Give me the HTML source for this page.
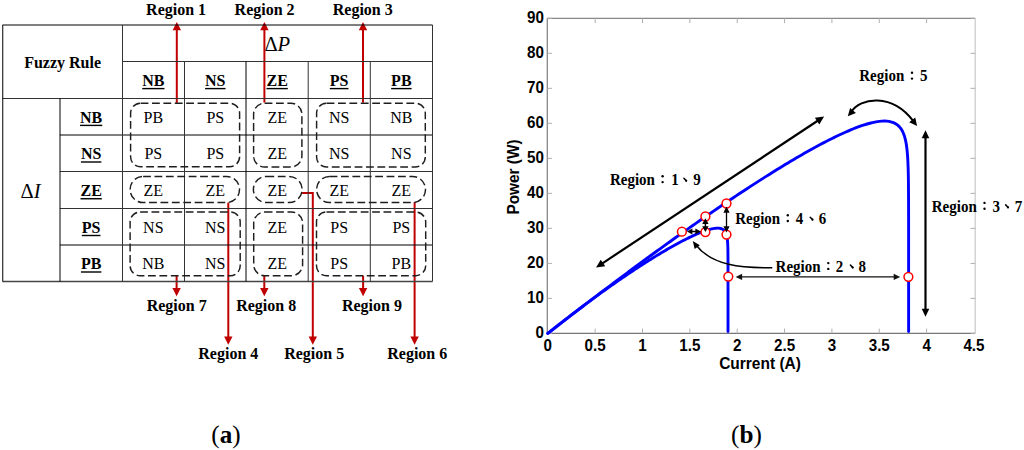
<!DOCTYPE html>
<html><head><meta charset="utf-8"><title>Fuzzy rule table and P-I curve</title>
<style>html,body{margin:0;padding:0;background:#fff;width:1024px;height:450px;overflow:hidden}svg{display:block}</style>
</head><body>
<svg width="1024" height="450" viewBox="0 0 1024 450"><line x1="176.8" y1="102.8" x2="176.8" y2="28" stroke="#c00000" stroke-width="2"/>
<path d="M176.8,22 L181,30.2 L172.6,30.2 Z" fill="#c00000"/>
<line x1="264.4" y1="102.5" x2="264.4" y2="28" stroke="#c00000" stroke-width="2"/>
<path d="M264.4,22 L268.6,30.2 L260.2,30.2 Z" fill="#c00000"/>
<line x1="363" y1="102.5" x2="363" y2="28" stroke="#c00000" stroke-width="2"/>
<path d="M363,22 L367.2,30.2 L358.8,30.2 Z" fill="#c00000"/>
<line x1="176.6" y1="275.7" x2="176.6" y2="290.3" stroke="#c00000" stroke-width="2"/>
<path d="M176.6,296.3 L172.4,288.1 L180.8,288.1 Z" fill="#c00000"/>
<line x1="264.3" y1="275.7" x2="264.3" y2="290.3" stroke="#c00000" stroke-width="2"/>
<path d="M264.3,296.3 L260.1,288.1 L268.5,288.1 Z" fill="#c00000"/>
<line x1="363.1" y1="275.7" x2="363.1" y2="290.3" stroke="#c00000" stroke-width="2"/>
<path d="M363.1,296.3 L358.9,288.1 L367.3,288.1 Z" fill="#c00000"/>
<line x1="228.3" y1="202.6" x2="228.3" y2="338.8" stroke="#c00000" stroke-width="2"/>
<path d="M228.3,344.8 L224.1,336.6 L232.5,336.6 Z" fill="#c00000"/>
<line x1="414.6" y1="202.2" x2="414.6" y2="338.8" stroke="#c00000" stroke-width="2"/>
<path d="M414.6,344.8 L410.4,336.6 L418.8,336.6 Z" fill="#c00000"/>
<path d="M302.1,193 H312.8 V338" fill="none" stroke="#c00000" stroke-width="2"/>
<path d="M312.8,344.8 L308.6,336.6 L317,336.6 Z" fill="#c00000"/>
<line x1="2.5" y1="25" x2="432.5" y2="25" stroke="#000" stroke-width="1"/>
<line x1="122.3" y1="61.5" x2="432.5" y2="61.5" stroke="#333" stroke-width="1"/>
<line x1="2.5" y1="98.5" x2="432.5" y2="98.5" stroke="#333" stroke-width="1"/>
<line x1="60" y1="135" x2="432.5" y2="135" stroke="#000" stroke-width="1"/>
<line x1="60" y1="171.5" x2="432.5" y2="171.5" stroke="#333" stroke-width="1"/>
<line x1="60" y1="208.5" x2="432.5" y2="208.5" stroke="#333" stroke-width="1"/>
<line x1="60" y1="245" x2="432.5" y2="245" stroke="#000" stroke-width="1"/>
<line x1="2.5" y1="281.5" x2="432.5" y2="281.5" stroke="#444" stroke-width="1.3"/>
<line x1="2.75" y1="25" x2="2.75" y2="281.5" stroke="#000" stroke-width="1"/>
<line x1="60" y1="98.3" x2="60" y2="281.5" stroke="#000" stroke-width="1"/>
<line x1="122.5" y1="25" x2="122.5" y2="281.5" stroke="#333" stroke-width="1"/>
<line x1="184.5" y1="61.4" x2="184.5" y2="281.5" stroke="#333" stroke-width="1"/>
<line x1="246" y1="61.4" x2="246" y2="281.5" stroke="#000" stroke-width="1"/>
<line x1="308.2" y1="61.4" x2="308.2" y2="281.5" stroke="#333" stroke-width="1"/>
<line x1="370.3" y1="61.4" x2="370.3" y2="281.5" stroke="#333" stroke-width="1"/>
<line x1="432.5" y1="25" x2="432.5" y2="281.5" stroke="#333" stroke-width="1"/>
<text x="62.6" y="67.7" font-family="Liberation Serif" font-size="16" font-weight="bold" text-anchor="middle">Fuzzy Rule</text>
<text x="264.4" y="50.6" font-family="Liberation Serif" font-size="20.5">&#916;<tspan font-style="italic">P</tspan></text>
<text x="20.6" y="197.9" font-family="Liberation Serif" font-size="20.5">&#916;<tspan font-style="italic">I</tspan></text>
<text x="153.35" y="86" font-family="Liberation Serif" font-size="16" font-weight="bold" text-anchor="middle">NB</text>
<text x="215.3" y="86" font-family="Liberation Serif" font-size="16" font-weight="bold" text-anchor="middle">NS</text>
<text x="277.15" y="86" font-family="Liberation Serif" font-size="16" font-weight="bold" text-anchor="middle">ZE</text>
<text x="339.15" y="86" font-family="Liberation Serif" font-size="16" font-weight="bold" text-anchor="middle">PS</text>
<text x="401.35" y="86" font-family="Liberation Serif" font-size="16" font-weight="bold" text-anchor="middle">PB</text>
<text x="91.15" y="122.8" font-family="Liberation Serif" font-size="16" font-weight="bold" text-anchor="middle">NB</text>
<text x="91.15" y="159.4" font-family="Liberation Serif" font-size="16" font-weight="bold" text-anchor="middle">NS</text>
<text x="91.15" y="196.15" font-family="Liberation Serif" font-size="16" font-weight="bold" text-anchor="middle">ZE</text>
<text x="91.15" y="232.9" font-family="Liberation Serif" font-size="16" font-weight="bold" text-anchor="middle">PS</text>
<text x="91.15" y="269.4" font-family="Liberation Serif" font-size="16" font-weight="bold" text-anchor="middle">PB</text>
<rect x="142.24" y="87.9" width="22.22" height="1.4" fill="#000"/>
<rect x="80.04" y="124.7" width="22.22" height="1.4" fill="#000"/>
<rect x="205.08" y="87.9" width="20.45" height="1.4" fill="#000"/>
<rect x="80.93" y="161.3" width="20.45" height="1.4" fill="#000"/>
<rect x="266.48" y="87.9" width="21.34" height="1.4" fill="#000"/>
<rect x="80.48" y="198.05" width="21.34" height="1.4" fill="#000"/>
<rect x="329.81" y="87.9" width="18.67" height="1.4" fill="#000"/>
<rect x="81.81" y="234.8" width="18.67" height="1.4" fill="#000"/>
<rect x="391.13" y="87.9" width="20.45" height="1.4" fill="#000"/>
<rect x="80.93" y="271.3" width="20.45" height="1.4" fill="#000"/>
<text x="153.35" y="122.8" font-family="Liberation Serif" font-size="16" text-anchor="middle">PB</text>
<text x="215.3" y="122.8" font-family="Liberation Serif" font-size="16" text-anchor="middle">PS</text>
<text x="277.15" y="122.8" font-family="Liberation Serif" font-size="16" text-anchor="middle">ZE</text>
<text x="339.15" y="122.8" font-family="Liberation Serif" font-size="16" text-anchor="middle">NS</text>
<text x="401.35" y="122.8" font-family="Liberation Serif" font-size="16" text-anchor="middle">NB</text>
<text x="153.35" y="159.4" font-family="Liberation Serif" font-size="16" text-anchor="middle">PS</text>
<text x="215.3" y="159.4" font-family="Liberation Serif" font-size="16" text-anchor="middle">PS</text>
<text x="277.15" y="159.4" font-family="Liberation Serif" font-size="16" text-anchor="middle">ZE</text>
<text x="339.15" y="159.4" font-family="Liberation Serif" font-size="16" text-anchor="middle">NS</text>
<text x="401.35" y="159.4" font-family="Liberation Serif" font-size="16" text-anchor="middle">NS</text>
<text x="153.35" y="196.15" font-family="Liberation Serif" font-size="16" text-anchor="middle">ZE</text>
<text x="215.3" y="196.15" font-family="Liberation Serif" font-size="16" text-anchor="middle">ZE</text>
<text x="277.15" y="196.15" font-family="Liberation Serif" font-size="16" text-anchor="middle">ZE</text>
<text x="339.15" y="196.15" font-family="Liberation Serif" font-size="16" text-anchor="middle">ZE</text>
<text x="401.35" y="196.15" font-family="Liberation Serif" font-size="16" text-anchor="middle">ZE</text>
<text x="153.35" y="232.9" font-family="Liberation Serif" font-size="16" text-anchor="middle">NS</text>
<text x="215.3" y="232.9" font-family="Liberation Serif" font-size="16" text-anchor="middle">NS</text>
<text x="277.15" y="232.9" font-family="Liberation Serif" font-size="16" text-anchor="middle">ZE</text>
<text x="339.15" y="232.9" font-family="Liberation Serif" font-size="16" text-anchor="middle">PS</text>
<text x="401.35" y="232.9" font-family="Liberation Serif" font-size="16" text-anchor="middle">PS</text>
<text x="153.35" y="269.4" font-family="Liberation Serif" font-size="16" text-anchor="middle">NB</text>
<text x="215.3" y="269.4" font-family="Liberation Serif" font-size="16" text-anchor="middle">NS</text>
<text x="277.15" y="269.4" font-family="Liberation Serif" font-size="16" text-anchor="middle">ZE</text>
<text x="339.15" y="269.4" font-family="Liberation Serif" font-size="16" text-anchor="middle">PS</text>
<text x="401.35" y="269.4" font-family="Liberation Serif" font-size="16" text-anchor="middle">PB</text>
<rect x="130.6" y="103.2" width="109" height="63.6" rx="10" fill="none" stroke="#1e1e1e" stroke-width="1.45" stroke-dasharray="7.8,3.6"/>
<rect x="253.6" y="103.2" width="48.3" height="63.8" rx="11" fill="none" stroke="#1e1e1e" stroke-width="1.45" stroke-dasharray="7.8,3.6"/>
<rect x="316.6" y="103.2" width="108.7" height="63.8" rx="10" fill="none" stroke="#1e1e1e" stroke-width="1.45" stroke-dasharray="7.8,3.6"/>
<rect x="130.1" y="176.4" width="109.4" height="26.2" rx="13" fill="none" stroke="#1e1e1e" stroke-width="1.45" stroke-dasharray="7.8,3.6"/>
<rect x="253.4" y="176.4" width="48.7" height="26.2" rx="13" fill="none" stroke="#1e1e1e" stroke-width="1.45" stroke-dasharray="7.8,3.6"/>
<rect x="316.6" y="176.4" width="108.9" height="26.2" rx="13" fill="none" stroke="#1e1e1e" stroke-width="1.45" stroke-dasharray="7.8,3.6"/>
<rect x="130.1" y="212" width="110.1" height="63.7" rx="10" fill="none" stroke="#1e1e1e" stroke-width="1.45" stroke-dasharray="7.8,3.6"/>
<rect x="253.7" y="212" width="48.9" height="63.7" rx="11" fill="none" stroke="#1e1e1e" stroke-width="1.45" stroke-dasharray="7.8,3.6"/>
<rect x="316.5" y="212" width="109.2" height="63.7" rx="10" fill="none" stroke="#1e1e1e" stroke-width="1.45" stroke-dasharray="7.8,3.6"/>
<text x="176.1" y="15.1" font-family="Liberation Serif" font-size="16" font-weight="bold" text-anchor="middle">Region 1</text>
<text x="264.6" y="15.1" font-family="Liberation Serif" font-size="16" font-weight="bold" text-anchor="middle">Region 2</text>
<text x="362.75" y="15.1" font-family="Liberation Serif" font-size="16" font-weight="bold" text-anchor="middle">Region 3</text>
<text x="176.7" y="311.1" font-family="Liberation Serif" font-size="16" font-weight="bold" text-anchor="middle">Region 7</text>
<text x="266.15" y="311.1" font-family="Liberation Serif" font-size="16" font-weight="bold" text-anchor="middle">Region 8</text>
<text x="371.9" y="311.1" font-family="Liberation Serif" font-size="16" font-weight="bold" text-anchor="middle">Region 9</text>
<text x="228.3" y="358.6" font-family="Liberation Serif" font-size="16" font-weight="bold" text-anchor="middle">Region 4</text>
<text x="314.2" y="358.6" font-family="Liberation Serif" font-size="16" font-weight="bold" text-anchor="middle">Region 5</text>
<text x="417.25" y="358.6" font-family="Liberation Serif" font-size="16" font-weight="bold" text-anchor="middle">Region 6</text>
<text x="226" y="442.6" font-family="Liberation Serif" font-size="25.2" text-anchor="middle">(<tspan font-weight="bold">a</tspan>)</text>
<text x="746.5" y="442.6" font-family="Liberation Serif" font-size="25.2" text-anchor="middle">(<tspan font-weight="bold">b</tspan>)</text>
<line x1="547.3" y1="18.3" x2="975.2" y2="18.3" stroke="#888" stroke-width="1.2"/>
<line x1="547.3" y1="333.4" x2="975.2" y2="333.4" stroke="#777" stroke-width="1.3"/>
<line x1="547.3" y1="18.3" x2="547.3" y2="333.4" stroke="#888" stroke-width="1.3"/>
<line x1="975.2" y1="18.3" x2="975.2" y2="333.4" stroke="#c8c8c8" stroke-width="1.2"/>
<line x1="547.3" y1="333.4" x2="552" y2="333.4" stroke="#b0b0b0" stroke-width="1"/>
<line x1="970.5" y1="333.4" x2="975.2" y2="333.4" stroke="#b0b0b0" stroke-width="1"/>
<text transform="translate(544,338.3) scale(1,1.1)" font-family="Liberation Sans" font-size="15.2" font-weight="bold" text-anchor="end">0</text>
<line x1="547.3" y1="298.39" x2="552" y2="298.39" stroke="#b0b0b0" stroke-width="1"/>
<line x1="970.5" y1="298.39" x2="975.2" y2="298.39" stroke="#b0b0b0" stroke-width="1"/>
<text transform="translate(544,303.29) scale(1,1.1)" font-family="Liberation Sans" font-size="15.2" font-weight="bold" text-anchor="end">10</text>
<line x1="547.3" y1="263.38" x2="552" y2="263.38" stroke="#b0b0b0" stroke-width="1"/>
<line x1="970.5" y1="263.38" x2="975.2" y2="263.38" stroke="#b0b0b0" stroke-width="1"/>
<text transform="translate(544,268.28) scale(1,1.1)" font-family="Liberation Sans" font-size="15.2" font-weight="bold" text-anchor="end">20</text>
<line x1="547.3" y1="228.37" x2="552" y2="228.37" stroke="#b0b0b0" stroke-width="1"/>
<line x1="970.5" y1="228.37" x2="975.2" y2="228.37" stroke="#b0b0b0" stroke-width="1"/>
<text transform="translate(544,233.27) scale(1,1.1)" font-family="Liberation Sans" font-size="15.2" font-weight="bold" text-anchor="end">30</text>
<line x1="547.3" y1="193.36" x2="552" y2="193.36" stroke="#b0b0b0" stroke-width="1"/>
<line x1="970.5" y1="193.36" x2="975.2" y2="193.36" stroke="#b0b0b0" stroke-width="1"/>
<text transform="translate(544,198.26) scale(1,1.1)" font-family="Liberation Sans" font-size="15.2" font-weight="bold" text-anchor="end">40</text>
<line x1="547.3" y1="158.35" x2="552" y2="158.35" stroke="#b0b0b0" stroke-width="1"/>
<line x1="970.5" y1="158.35" x2="975.2" y2="158.35" stroke="#b0b0b0" stroke-width="1"/>
<text transform="translate(544,163.25) scale(1,1.1)" font-family="Liberation Sans" font-size="15.2" font-weight="bold" text-anchor="end">50</text>
<line x1="547.3" y1="123.34" x2="552" y2="123.34" stroke="#b0b0b0" stroke-width="1"/>
<line x1="970.5" y1="123.34" x2="975.2" y2="123.34" stroke="#b0b0b0" stroke-width="1"/>
<text transform="translate(544,128.24) scale(1,1.1)" font-family="Liberation Sans" font-size="15.2" font-weight="bold" text-anchor="end">60</text>
<line x1="547.3" y1="88.33" x2="552" y2="88.33" stroke="#b0b0b0" stroke-width="1"/>
<line x1="970.5" y1="88.33" x2="975.2" y2="88.33" stroke="#b0b0b0" stroke-width="1"/>
<text transform="translate(544,93.23) scale(1,1.1)" font-family="Liberation Sans" font-size="15.2" font-weight="bold" text-anchor="end">70</text>
<line x1="547.3" y1="53.32" x2="552" y2="53.32" stroke="#b0b0b0" stroke-width="1"/>
<line x1="970.5" y1="53.32" x2="975.2" y2="53.32" stroke="#b0b0b0" stroke-width="1"/>
<text transform="translate(544,58.22) scale(1,1.1)" font-family="Liberation Sans" font-size="15.2" font-weight="bold" text-anchor="end">80</text>
<line x1="547.3" y1="18.31" x2="552" y2="18.31" stroke="#b0b0b0" stroke-width="1"/>
<line x1="970.5" y1="18.31" x2="975.2" y2="18.31" stroke="#b0b0b0" stroke-width="1"/>
<text transform="translate(544,23.21) scale(1,1.1)" font-family="Liberation Sans" font-size="15.2" font-weight="bold" text-anchor="end">90</text>
<text transform="translate(547.8,351.2) scale(1,1.1)" font-family="Liberation Sans" font-size="15.2" font-weight="bold" text-anchor="middle">0</text>
<line x1="595.15" y1="333.4" x2="595.15" y2="328.6" stroke="#b0b0b0" stroke-width="1"/>
<line x1="595.15" y1="18.3" x2="595.15" y2="23.1" stroke="#b0b0b0" stroke-width="1"/>
<text transform="translate(595.15,351.2) scale(1,1.1)" font-family="Liberation Sans" font-size="15.2" font-weight="bold" text-anchor="middle">0.5</text>
<line x1="642.5" y1="333.4" x2="642.5" y2="328.6" stroke="#b0b0b0" stroke-width="1"/>
<line x1="642.5" y1="18.3" x2="642.5" y2="23.1" stroke="#b0b0b0" stroke-width="1"/>
<text transform="translate(642.5,351.2) scale(1,1.1)" font-family="Liberation Sans" font-size="15.2" font-weight="bold" text-anchor="middle">1</text>
<line x1="689.85" y1="333.4" x2="689.85" y2="328.6" stroke="#b0b0b0" stroke-width="1"/>
<line x1="689.85" y1="18.3" x2="689.85" y2="23.1" stroke="#b0b0b0" stroke-width="1"/>
<text transform="translate(689.85,351.2) scale(1,1.1)" font-family="Liberation Sans" font-size="15.2" font-weight="bold" text-anchor="middle">1.5</text>
<line x1="737.2" y1="333.4" x2="737.2" y2="328.6" stroke="#b0b0b0" stroke-width="1"/>
<line x1="737.2" y1="18.3" x2="737.2" y2="23.1" stroke="#b0b0b0" stroke-width="1"/>
<text transform="translate(737.2,351.2) scale(1,1.1)" font-family="Liberation Sans" font-size="15.2" font-weight="bold" text-anchor="middle">2</text>
<line x1="784.55" y1="333.4" x2="784.55" y2="328.6" stroke="#b0b0b0" stroke-width="1"/>
<line x1="784.55" y1="18.3" x2="784.55" y2="23.1" stroke="#b0b0b0" stroke-width="1"/>
<text transform="translate(784.55,351.2) scale(1,1.1)" font-family="Liberation Sans" font-size="15.2" font-weight="bold" text-anchor="middle">2.5</text>
<line x1="831.9" y1="333.4" x2="831.9" y2="328.6" stroke="#b0b0b0" stroke-width="1"/>
<line x1="831.9" y1="18.3" x2="831.9" y2="23.1" stroke="#b0b0b0" stroke-width="1"/>
<text transform="translate(831.9,351.2) scale(1,1.1)" font-family="Liberation Sans" font-size="15.2" font-weight="bold" text-anchor="middle">3</text>
<line x1="879.25" y1="333.4" x2="879.25" y2="328.6" stroke="#b0b0b0" stroke-width="1"/>
<line x1="879.25" y1="18.3" x2="879.25" y2="23.1" stroke="#b0b0b0" stroke-width="1"/>
<text transform="translate(879.25,351.2) scale(1,1.1)" font-family="Liberation Sans" font-size="15.2" font-weight="bold" text-anchor="middle">3.5</text>
<line x1="926.6" y1="333.4" x2="926.6" y2="328.6" stroke="#b0b0b0" stroke-width="1"/>
<line x1="926.6" y1="18.3" x2="926.6" y2="23.1" stroke="#b0b0b0" stroke-width="1"/>
<text transform="translate(926.6,351.2) scale(1,1.1)" font-family="Liberation Sans" font-size="15.2" font-weight="bold" text-anchor="middle">4</text>
<text transform="translate(973.95,351.2) scale(1,1.1)" font-family="Liberation Sans" font-size="15.2" font-weight="bold" text-anchor="middle">4.5</text>
<text transform="translate(760,368.9) scale(1,1.1)" font-family="Liberation Sans" font-size="15.5" font-weight="bold" text-anchor="middle">Current (A)</text>
<text transform="translate(518.6,177) rotate(-90) scale(1,1.1)" x="0" y="0" font-family="Liberation Sans" font-size="15.4" font-weight="bold" text-anchor="middle">Power (W)</text>
<path d="M547.8,333.4 L549.16,332.31 L550.53,331.22 L551.89,330.14 L553.25,329.06 L554.61,327.98 L555.98,326.9 L557.34,325.83 L558.7,324.76 L560.07,323.69 L561.43,322.63 L562.79,321.56 L564.16,320.5 L565.52,319.45 L566.88,318.39 L568.24,317.34 L569.61,316.29 L570.97,315.24 L572.33,314.2 L573.7,313.16 L575.06,312.12 L576.42,311.08 L577.79,310.05 L579.15,309.02 L580.51,307.99 L581.87,306.97 L583.24,305.95 L584.6,304.93 L585.96,303.91 L587.33,302.9 L588.69,301.89 L590.05,300.88 L591.41,299.87 L592.78,298.87 L594.14,297.87 L595.5,296.88 L596.87,295.89 L598.23,294.9 L599.59,293.91 L600.96,292.92 L602.32,291.94 L603.68,290.97 L605.04,289.99 L606.41,289.02 L607.77,288.05 L609.13,287.09 L610.5,286.12 L611.86,285.17 L613.22,284.21 L614.59,283.26 L615.95,282.31 L617.31,281.36 L618.67,280.42 L620.04,279.48 L621.4,278.54 L622.76,277.61 L624.13,276.68 L625.49,275.76 L626.85,274.84 L628.21,273.92 L629.58,273 L630.94,272.09 L632.3,271.19 L633.67,270.28 L635.03,269.38 L636.39,268.49 L637.76,267.59 L639.12,266.71 L640.48,265.82 L641.84,264.94 L643.21,264.07 L644.57,263.19 L645.93,262.33 L647.3,261.46 L648.66,260.6 L650.02,259.75 L651.39,258.9 L652.75,258.05 L654.11,257.21 L655.47,256.37 L656.84,255.54 L658.2,254.72 L659.56,253.89 L660.93,253.08 L662.29,252.27 L663.65,251.46 L665.01,250.66 L666.38,249.87 L667.74,249.08 L669.1,248.29 L670.47,247.52 L671.83,246.75 L673.19,245.98 L674.56,245.23 L675.92,244.47 L677.28,243.73 L678.64,243 L680.01,242.27 L681.37,241.55 L682.73,240.83 L684.1,240.13 L685.46,239.44 L686.82,238.75 L688.19,238.08 L689.55,237.41 L690.91,236.76 L692.27,236.11 L693.64,235.48 L695,234.87 L696.36,234.26 L697.73,233.68 L699.09,233.1 L700.45,232.55 L701.81,232.01 L703.18,231.5 L704.54,231 L705.9,230.53 L707.27,230.09 L708.63,229.68 L709.99,229.3 L709.99,229.3 L711.73,228.88 L713.3,228.56 L714.72,228.34 L716,228.21 L717.16,228.15 L718.2,228.16 L719.15,228.23 L720,228.36 L720.78,228.53 L721.47,228.75 L722.11,229.01 L722.67,229.3 L723.19,229.63 L723.65,229.98 L724.07,230.36 L724.45,230.76 L724.8,231.19 L725.11,231.63 L725.39,232.09 L725.64,232.56 L725.87,233.05 L726.08,233.54 L726.26,234.05 L726.43,234.57 L726.58,235.1 L726.72,235.63 L726.85,236.18 L726.96,236.72 L727.06,237.28 L727.15,237.84 L727.24,238.4 L727.31,238.97 L727.38,239.54 L727.44,240.11 L727.5,240.69 L727.55,241.27 L727.59,241.85 L727.63,242.44 L727.67,243.02 L727.7,243.61 L727.73,244.2 L727.76,244.79 L727.78,245.38 L727.81,245.97 L727.83,246.57 L727.84,247.16 L727.86,247.76 L727.88,248.36 L727.89,248.95 L727.9,249.55 L727.91,250.15 L727.92,250.75 L727.93,251.35 L727.94,251.95 L727.95,252.54 L727.95,253.14 L727.96,253.74 L727.96,254.35 L727.97,254.95 L727.97,255.55 L727.98,256.15 L727.98,256.75 L727.98,257.35 L727.99,257.95 L727.99,258.55 L727.99,259.16 L727.99,259.76 L728,260.36 L728,260.96 L728,261.56 L728,262.17 L728,262.77 L728,263.37 L728,263.97 L728.01,264.57 L728.01,265.18 L728.01,265.78 L728.01,266.38 L728.01,266.98 L728.01,267.59 L728.01,268.19 L728.01,268.79 L728.01,269.39 L728.01,270 L728.01,270.6 L728.01,271.2 L728.01,271.8 L728.01,272.4 L728.01,273.01 L728.01,273.61 L728.01,274.21 L728.01,274.81 L728.01,275.42 L728.01,276.02 L728.01,276.62 L728.01,277.22 L728.01,277.83 L728.01,278.43 L728.01,279.03 L728.01,279.64 L728.01,280.24 L728.01,280.84 L728.01,281.44 L728.01,282.05 L728.01,282.65 L728.01,283.25 L728.01,283.85 L728.01,284.46 L728.01,285.06 L728.01,285.66 L728.01,286.26 L728.01,286.87 L728.01,287.47 L728.01,288.07 L728.01,288.67 L728.01,289.28 L728.01,289.88 L728.01,290.48 L728.01,291.08 L728.01,291.69 L728.01,292.29 L728.01,292.89 L728.01,293.49 L728.01,294.1 L728.01,294.7 L728.01,295.3 L728.01,295.9 L728.01,296.51 L728.01,297.11 L728.01,297.71 L728.01,298.31 L728.01,298.92 L728.01,299.52 L728.01,300.12 L728.01,300.72 L728.01,301.33 L728.01,301.93 L728.01,302.53 L728.01,303.13 L728.01,303.74 L728.01,304.34 L728.01,304.94 L728.01,305.54 L728.01,306.15 L728.01,306.75 L728.01,307.35 L728.01,307.95 L728.01,308.56 L728.01,309.16 L728.01,309.76 L728.01,310.36 L728.01,310.97 L728.01,311.57 L728.01,312.17 L728.01,312.77 L728.01,313.38 L728.01,313.98 L728.01,314.58 L728.01,315.19 L728.01,331.6" fill="none" stroke="#0000ff" stroke-width="2.9" stroke-linejoin="round" stroke-linecap="round"/>
<path d="M547.8,333.4 L550.53,331.27 L553.26,329.14 L555.99,327.02 L558.72,324.9 L561.44,322.79 L564.17,320.67 L566.9,318.56 L569.63,316.46 L572.36,314.35 L575.09,312.25 L577.82,310.16 L580.55,308.07 L583.28,305.98 L586,303.89 L588.73,301.81 L591.46,299.73 L594.19,297.66 L596.92,295.59 L599.65,293.52 L602.38,291.46 L605.11,289.4 L607.83,287.34 L610.56,285.29 L613.29,283.24 L616.02,281.2 L618.75,279.16 L621.48,277.12 L624.21,275.09 L626.94,273.06 L629.67,271.04 L632.39,269.02 L635.12,267.01 L637.85,264.99 L640.58,262.99 L643.31,260.98 L646.04,258.99 L648.77,256.99 L651.5,255 L654.23,253.02 L656.95,251.04 L659.68,249.06 L662.41,247.09 L665.14,245.12 L667.87,243.16 L670.6,241.2 L673.33,239.25 L676.06,237.3 L678.79,235.36 L681.51,233.42 L684.24,231.49 L686.97,229.56 L689.7,227.64 L692.43,225.73 L695.16,223.82 L697.89,221.91 L700.62,220.01 L703.34,218.12 L706.07,216.23 L708.8,214.35 L711.53,212.47 L714.26,210.6 L716.99,208.74 L719.72,206.88 L722.45,205.03 L725.18,203.18 L727.9,201.35 L730.63,199.51 L733.36,197.69 L736.09,195.87 L738.82,194.06 L741.55,192.26 L744.28,190.47 L747.01,188.68 L749.74,186.9 L752.46,185.13 L755.19,183.37 L757.92,181.61 L760.65,179.87 L763.38,178.13 L766.11,176.4 L768.84,174.68 L771.57,172.98 L774.3,171.28 L777.02,169.59 L779.75,167.91 L782.48,166.25 L785.21,164.59 L787.94,162.95 L790.67,161.32 L793.4,159.7 L796.13,158.09 L798.85,156.5 L801.58,154.92 L804.31,153.36 L807.04,151.81 L809.77,150.28 L812.5,148.76 L815.23,147.26 L817.96,145.78 L820.69,144.32 L823.41,142.88 L826.14,141.46 L828.87,140.07 L831.6,138.69 L834.33,137.35 L837.06,136.02 L839.79,134.73 L842.52,133.47 L845.25,132.24 L847.97,131.05 L850.7,129.89 L853.43,128.78 L856.16,127.71 L858.89,126.69 L861.62,125.73 L864.35,124.83 L867.08,123.99 L869.81,123.24 L872.53,122.57 L872.53,122.57 L876.01,121.86 L879.16,121.39 L882,121.13 L884.56,121.06 L886.88,121.16 L888.98,121.41 L890.87,121.8 L892.58,122.32 L894.13,122.94 L895.52,123.66 L896.78,124.47 L897.93,125.36 L898.96,126.32 L899.89,127.35 L900.73,128.43 L901.49,129.56 L902.18,130.74 L902.8,131.97 L903.36,133.22 L903.86,134.52 L904.32,135.84 L904.74,137.19 L905.11,138.56 L905.45,139.95 L905.75,141.36 L906.03,142.8 L906.28,144.24 L906.5,145.7 L906.71,147.17 L906.89,148.66 L907.06,150.15 L907.21,151.65 L907.34,153.16 L907.47,154.68 L907.58,156.21 L907.68,157.74 L907.77,159.27 L907.85,160.81 L907.92,162.35 L907.99,163.9 L908.05,165.45 L908.1,167.01 L908.15,168.56 L908.2,170.12 L908.24,171.69 L908.28,173.25 L908.31,174.81 L908.34,176.38 L908.36,177.95 L908.39,179.52 L908.41,181.09 L908.43,182.66 L908.45,184.23 L908.46,185.81 L908.48,187.38 L908.49,188.95 L908.5,190.53 L908.51,192.1 L908.52,193.68 L908.53,195.26 L908.54,196.83 L908.55,198.41 L908.55,199.99 L908.56,201.57 L908.57,203.14 L908.57,204.72 L908.58,206.3 L908.58,207.88 L908.58,209.46 L908.59,211.04 L908.59,212.61 L908.59,214.19 L908.59,215.77 L908.6,217.35 L908.6,218.93 L908.6,220.51 L908.6,222.09 L908.6,223.67 L908.6,225.25 L908.6,226.83 L908.61,228.41 L908.61,229.99 L908.61,231.57 L908.61,233.15 L908.61,234.73 L908.61,236.31 L908.61,237.89 L908.61,239.47 L908.61,241.05 L908.61,242.63 L908.61,244.21 L908.61,245.78 L908.61,247.36 L908.61,248.94 L908.61,250.52 L908.61,252.1 L908.61,253.68 L908.61,255.26 L908.61,256.84 L908.61,258.42 L908.61,260 L908.61,261.58 L908.61,263.16 L908.61,264.74 L908.61,266.32 L908.61,267.9 L908.61,269.48 L908.61,271.06 L908.61,272.64 L908.62,274.22 L908.62,275.8 L908.62,277.38 L908.62,278.96 L908.62,280.54 L908.62,282.12 L908.62,283.7 L908.62,285.28 L908.62,286.86 L908.62,288.44 L908.62,290.02 L908.62,291.6 L908.62,293.18 L908.62,294.76 L908.62,296.34 L908.62,297.92 L908.62,299.5 L908.62,301.08 L908.62,302.66 L908.62,304.24 L908.62,305.82 L908.62,307.4 L908.62,308.98 L908.62,310.56 L908.62,312.14 L908.62,313.72 L908.62,315.3 L908.62,316.88 L908.62,318.46 L908.62,320.04 L908.62,321.62 L908.62,323.2 L908.62,324.78 L908.62,326.36 L908.62,327.94 L908.62,329.52 L908.62,331.1 L908.62,331.6" fill="none" stroke="#0000ff" stroke-width="2.9" stroke-linejoin="round" stroke-linecap="round"/>
<line x1="600.9" y1="264.35" x2="819.2" y2="119.75" stroke="#000" stroke-width="2.2"/>
<path d="M824.1,116.5 L819.31,124.47 L814.89,117.8 Z" fill="#000"/>
<path d="M596,267.6 L600.79,259.63 L605.21,266.3 Z" fill="#000"/>
<line x1="925.5" y1="135.8" x2="925.5" y2="311.1" stroke="#000" stroke-width="2.2"/>
<path d="M925.5,316.7 L921.7,308.7 L929.3,308.7 Z" fill="#000"/>
<path d="M925.5,130.2 L929.3,138.2 L921.7,138.2 Z" fill="#000"/>
<path d="M851,112.3 C860,97.5 892,92.5 913.5,121.3" fill="none" stroke="#000" stroke-width="2"/>
<path d="M847.8,116.3 L850.12,107.89 L855.92,113.11 Z" fill="#000"/>
<path d="M917.1,126 L909.18,122.36 L915.26,117.48 Z" fill="#000"/>
<circle cx="681.9" cy="231.7" r="4.4" fill="#fff" stroke="#ff0000" stroke-width="1.5"/>
<circle cx="705.4" cy="216.5" r="4.4" fill="#fff" stroke="#ff0000" stroke-width="1.5"/>
<circle cx="705.4" cy="232.1" r="4.4" fill="#fff" stroke="#ff0000" stroke-width="1.5"/>
<circle cx="726.5" cy="203.5" r="4.4" fill="#fff" stroke="#ff0000" stroke-width="1.5"/>
<circle cx="726.5" cy="234.6" r="4.4" fill="#fff" stroke="#ff0000" stroke-width="1.5"/>
<circle cx="728.3" cy="276.6" r="4.4" fill="#fff" stroke="#ff0000" stroke-width="1.5"/>
<circle cx="908.4" cy="276.8" r="4.4" fill="#fff" stroke="#ff0000" stroke-width="1.5"/>
<line x1="726.5" y1="210.81" x2="726.5" y2="228.19" stroke="#000" stroke-width="1.3"/>
<path d="M726.5,232.6 L723.4,226.3 L729.6,226.3 Z" fill="#000"/>
<path d="M726.5,206.4 L729.6,212.7 L723.4,212.7 Z" fill="#000"/>
<line x1="705.4" y1="222.22" x2="705.4" y2="227.98" stroke="#000" stroke-width="1.5"/>
<path d="M705.4,231.9 L702.2,226.3 L708.6,226.3 Z" fill="#000"/>
<path d="M705.4,218.3 L708.6,223.9 L702.2,223.9 Z" fill="#000"/>
<line x1="690.78" y1="231.5" x2="697.02" y2="231.5" stroke="#000" stroke-width="1.5"/>
<path d="M700.8,231.5 L695.4,234.4 L695.4,228.6 Z" fill="#000"/>
<path d="M687,231.5 L692.4,228.6 L692.4,234.4 Z" fill="#000"/>
<path d="M772.3,267.8 C742,268 712,266 695.5,244.5" fill="none" stroke="#000" stroke-width="1.4"/>
<path d="M692.8,241.1 L699.83,245.23 L694.68,249.03 Z" fill="#000"/>
<line x1="740.15" y1="276.9" x2="895.65" y2="276.9" stroke="#111" stroke-width="1.4"/>
<path d="M900.2,276.9 L893.7,280 L893.7,273.8 Z" fill="#111"/>
<path d="M735.6,276.9 L742.1,273.8 L742.1,280 Z" fill="#111"/>
<text transform="translate(610,184.9) scale(1,1.05)" font-family="Liberation Serif" font-size="15" font-weight="bold" text-anchor="start">Region</text>
<circle cx="662.6" cy="176.3" r="1.2" fill="#000"/>
<circle cx="662.6" cy="182.1" r="1.2" fill="#000"/>
<text transform="translate(671.3,184.9) scale(1,1.05)" font-family="Liberation Serif" font-size="15" font-weight="bold" text-anchor="start">1</text>
<path d="M683.9,178.3 l2.3,2.3" stroke="#000" stroke-width="1.5" stroke-linecap="round" fill="none"/>
<circle cx="686.2" cy="180.8" r="1.1" fill="#000"/>
<text transform="translate(693.2,184.9) scale(1,1.05)" font-family="Liberation Serif" font-size="15" font-weight="bold" text-anchor="start">9</text>
<text transform="translate(859.3,81.4) scale(1,1.05)" font-family="Liberation Serif" font-size="15" font-weight="bold" text-anchor="start">Region</text>
<circle cx="912" cy="72.8" r="1.2" fill="#000"/>
<circle cx="912" cy="78.6" r="1.2" fill="#000"/>
<text transform="translate(920,81.4) scale(1,1.05)" font-family="Liberation Serif" font-size="15" font-weight="bold" text-anchor="start">5</text>
<text transform="translate(735.2,223.8) scale(1,1.05)" font-family="Liberation Serif" font-size="15" font-weight="bold" text-anchor="start">Region</text>
<circle cx="787.8" cy="215.2" r="1.2" fill="#000"/>
<circle cx="787.8" cy="221" r="1.2" fill="#000"/>
<text transform="translate(795.7,223.8) scale(1,1.05)" font-family="Liberation Serif" font-size="15" font-weight="bold" text-anchor="start">4</text>
<path d="M810.2,217.2 l2.3,2.3" stroke="#000" stroke-width="1.5" stroke-linecap="round" fill="none"/>
<circle cx="812.5" cy="219.7" r="1.1" fill="#000"/>
<text transform="translate(818.8,223.8) scale(1,1.05)" font-family="Liberation Serif" font-size="15" font-weight="bold" text-anchor="start">6</text>
<text transform="translate(775.6,271.7) scale(1,1.05)" font-family="Liberation Serif" font-size="15" font-weight="bold" text-anchor="start">Region</text>
<circle cx="828.3" cy="263.1" r="1.2" fill="#000"/>
<circle cx="828.3" cy="268.9" r="1.2" fill="#000"/>
<text transform="translate(835.7,271.7) scale(1,1.05)" font-family="Liberation Serif" font-size="15" font-weight="bold" text-anchor="start">2</text>
<path d="M850.4,265.1 l2.3,2.3" stroke="#000" stroke-width="1.5" stroke-linecap="round" fill="none"/>
<circle cx="852.7" cy="267.6" r="1.1" fill="#000"/>
<text transform="translate(858.6,271.7) scale(1,1.05)" font-family="Liberation Serif" font-size="15" font-weight="bold" text-anchor="start">8</text>
<text transform="translate(931.8,211.5) scale(1,1.05)" font-family="Liberation Serif" font-size="15" font-weight="bold" text-anchor="start">Region</text>
<circle cx="984.5" cy="202.9" r="1.2" fill="#000"/>
<circle cx="984.5" cy="208.7" r="1.2" fill="#000"/>
<text transform="translate(992.5,211.5) scale(1,1.05)" font-family="Liberation Serif" font-size="15" font-weight="bold" text-anchor="start">3</text>
<path d="M1005.7,204.9 l2.3,2.3" stroke="#000" stroke-width="1.5" stroke-linecap="round" fill="none"/>
<circle cx="1008" cy="207.4" r="1.1" fill="#000"/>
<text transform="translate(1014.8,211.5) scale(1,1.05)" font-family="Liberation Serif" font-size="15" font-weight="bold" text-anchor="start">7</text></svg>
</body></html>
